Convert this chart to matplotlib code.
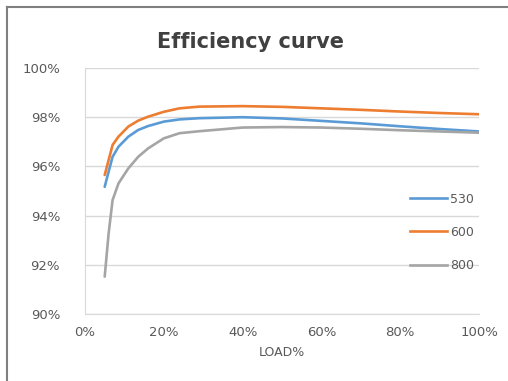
import numpy as np
import matplotlib
matplotlib.use("Agg")
import matplotlib.pyplot as plt
from matplotlib.lines import Line2D
from matplotlib.ticker import FuncFormatter

# ===============================
# DATA
# ===============================
load = [5, 6, 7, 8.5, 11, 13.5, 16, 20, 24, 29, 40, 50, 60, 70, 80, 90, 100]
eff_530 = [95.17, 95.79, 96.39, 96.80, 97.21, 97.48, 97.64, 97.82, 97.91, 97.96,
           98.00, 97.95, 97.85, 97.75, 97.63, 97.52, 97.42]
eff_600 = [95.65, 96.26, 96.87, 97.21, 97.62, 97.86, 98.02, 98.22, 98.36, 98.43,
           98.45, 98.42, 98.36, 98.30, 98.23, 98.17, 98.12]
eff_800 = [91.52, 93.28, 94.63, 95.31, 95.92, 96.39, 96.73, 97.14, 97.35, 97.43,
           97.58, 97.60, 97.58, 97.53, 97.47, 97.42, 97.37]
series_names = ["530", "600", "800"]

COLORS = ["#5B9BD5", "#ED7D31", "#A5A5A5"]
TEXT_GRAY = "#595959"

# ===============================
# PLOT
# ===============================
fig = plt.figure(figsize=(5.08, 3.81), dpi=100)
ax = fig.add_axes([85 / 508, 1 - 314 / 381, (479 - 85) / 508, (314 - 68) / 381])

for vals, color in zip([eff_530, eff_600, eff_800], COLORS):
    ax.plot(load, vals, color=color, lw=1.9, solid_capstyle="round",
            solid_joinstyle="round")

ax.set_xlim(0, 100)
ax.set_ylim(90, 100)
ax.set_xticks(np.arange(0, 101, 20))
ax.set_yticks(np.arange(90, 101, 2))
ax.xaxis.set_major_formatter(FuncFormatter(lambda v, p: f"{v:.0f}%"))
ax.yaxis.set_major_formatter(FuncFormatter(lambda v, p: f"{v:.0f}%"))
ax.tick_params(length=0, labelsize=9.5, labelcolor=TEXT_GRAY, pad=9)
ax.tick_params(axis="y", pad=18)
ax.grid(axis="y", color="#D9D9D9", lw=1)
ax.set_axisbelow(True)
for side in ["top", "right"]:
    ax.spines[side].set_visible(False)
for side in ["left", "bottom"]:
    ax.spines[side].set_color("#D9D9D9")

ax.set_xlabel("LOAD%", fontsize=9, color=TEXT_GRAY, labelpad=5)

fig.text(0.494, 1 - 42 / 381, "Efficiency curve", ha="center", va="center",
         fontsize=15, fontweight="bold", color="#404040")

# Legend
handles = [Line2D([0], [0], color=c, lw=1.9) for c in COLORS]
ax.legend(handles, series_names, loc="center right", bbox_to_anchor=(1.015, 0.332),
          frameon=False, fontsize=9, labelcolor=TEXT_GRAY, handlelength=3.0,
          handletextpad=0.2, labelspacing=1.62)

# Outer frame (top and left only)
fig.add_artist(Line2D([7 / 508, 1], [1 - 7 / 381] * 2, color="#7F7F7F", lw=1.5))
fig.add_artist(Line2D([7 / 508] * 2, [0, 1 - 7 / 381], color="#7F7F7F", lw=1.5))

fig.savefig("out.png", dpi=100, facecolor="white")
